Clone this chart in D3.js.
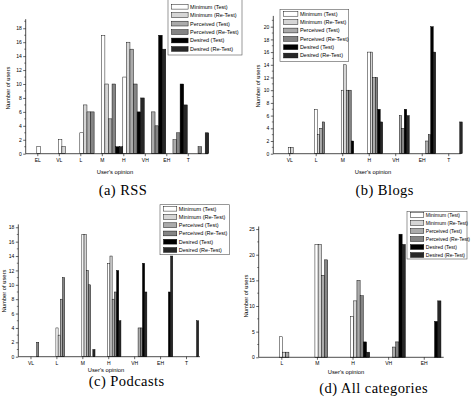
<!DOCTYPE html>
<html>
<head>
<meta charset="utf-8">
<script src="https://cdn.jsdelivr.net/npm/d3@7"></script>
<style>
  body { margin: 0; background: #fff; }
  text { font-family: "Liberation Sans", Arial, sans-serif; fill: #000; }
  .caption { font-family: "Liberation Serif", "DejaVu Serif", serif; letter-spacing: 0.45px; }
</style>
</head>
<body>
<svg id="chart" width="474" height="398"></svg>
<script>
// DATA
const seriesNames = ["Minimum (Test)", "Minimum (Re-Test)", "Perceived (Test)",
                     "Perceived (Re-Test)", "Desired (Test)", "Desired (Re-Test)"];

// (a) RSS
const rssCategories   = ["EL", "VL", "L", "M", "H", "VH", "EH", "T"];
const rssMinTest      = [1, 2, 3, 17, 11, 0, 0, 0];
const rssMinRetest    = [0, 1, 7, 10, 16, 0, 0, 0];
const rssPercTest     = [0, 0, 6, 5, 15, 6, 2, 0];
const rssPercRetest   = [0, 0, 6, 10, 10, 4, 3, 1];
const rssDesTest      = [0, 0, 0, 1, 6, 17, 10, 0];
const rssDesRetest    = [0, 0, 0, 1, 8, 15, 7, 3];
const rssYTicks       = [0, 2, 4, 6, 8, 10, 12, 14, 16, 18];

// (b) Blogs
const blogCategories  = ["VL", "L", "M", "H", "VH", "EH", "T"];
const blogMinTest     = [1, 7, 10, 16, 0, 0, 0];
const blogMinRetest   = [1, 3, 14, 16, 0, 0, 0];
const blogPercTest    = [0, 4, 10, 12, 6, 2, 0];
const blogPercRetest  = [0, 5, 10, 12, 4, 3, 0];
const blogDesTest     = [0, 0, 2, 7, 7, 20, 0];
const blogDesRetest   = [0, 0, 0, 5, 6, 16, 5];
const blogYTicks      = [0, 2, 4, 6, 8, 10, 12, 14, 16, 18, 20];

// (c) Podcasts
const podCategories   = ["VL", "L", "M", "H", "VH", "EH", "T"];
const podMinTest      = [0, 4, 17, 13, 0, 0, 0];
const podMinRetest    = [0, 3, 17, 14, 0, 0, 0];
const podPercTest     = [0, 8, 12, 8, 4, 0, 0];
const podPercRetest   = [2, 11, 10, 9, 4, 0, 0];
const podDesTest      = [0, 0, 0, 12, 13, 9, 0];
const podDesRetest    = [0, 0, 1, 5, 9, 14, 5];
const podYTicks       = [0, 2, 4, 6, 8, 10, 12, 14, 16, 18];

// (d) All categories
const allCategories   = ["L", "M", "H", "VH", "EH"];
const allMinTest      = [4, 22, 8, 0, 0];
const allMinRetest    = [1, 22, 11, 0, 0];
const allPercTest     = [1, 16, 15, 2, 0];
const allPercRetest   = [0, 19, 12, 3, 0];
const allDesTest      = [0, 0, 3, 24, 7];
const allDesRetest    = [0, 0, 1, 22, 11];
const allYTicks       = [0, 5, 10, 15, 20, 25];

// LAYOUT (pixel placement of each panel)
const panels = [
  { caption: "(a) RSS", categories: rssCategories,
    series: [rssMinTest, rssMinRetest, rssPercTest, rssPercRetest, rssDesTest, rssDesRetest],
    yTicks: rssYTicks, yMinor: 1, yMax: 19.3,
    x0: 25.7, x1: 208, xDom: [-0.54, 7.94], y0: 153.7, yTop: 19.2,
    barW: 3.58, barStart: -0.5,
    legend: { x: 168, y: -1, w: 74, h: 56, row0: 6.7, step: 8.45, sw: 16.6, fs: 5.5 },
    xTitle: [115, 173.5], yTitle: [8, 88], cap: [123, 195] },
  { caption: "(b) Blogs", categories: blogCategories,
    series: [blogMinTest, blogMinRetest, blogPercTest, blogPercRetest, blogDesTest, blogDesRetest],
    yTicks: blogYTicks, yMinor: 1, yMax: 21.7,
    x0: 273.3, x1: 460.7, xDom: [-0.6, 6.47], y0: 153.7, yTop: 15.9,
    barW: 2.5, barStart: -1,
    legend: { x: 280, y: 9.3, w: 68.7, h: 52, row0: 13.8, step: 8.35, sw: 14.4, fs: 5.5 },
    xTitle: [373, 173.5], yTitle: [257.7, 86], cap: [384.7, 195] },
  { caption: "(c) Podcasts", categories: podCategories,
    series: [podMinTest, podMinRetest, podPercTest, podPercRetest, podDesTest, podDesRetest],
    yTicks: podYTicks, yMinor: 1, yMax: 18.4,
    x0: 18.3, x1: 200, xDom: [-0.47, 6.54], y0: 356.7, yTop: 224.4,
    barW: 2.2, barStart: -0.5,
    legend: { x: 160, y: 204.7, w: 69.3, h: 50, row0: 208.7, step: 8.25, sw: 13.3, fs: 5.5 },
    xTitle: [106, 371.8], yTitle: [3.5, 291], cap: [126.7, 385.5] },
  { caption: "(d) All categories", categories: allCategories,
    series: [allMinTest, allMinRetest, allPercTest, allPercRetest, allDesTest, allDesRetest],
    yTicks: allYTicks, yMinor: 2.5, yMax: 25.5,
    x0: 258.7, x1: 443.7, xDom: [-0.635, 4.56], y0: 357.3, yTop: 226.5,
    barW: 3.2, barStart: -2,
    legend: { x: 407, y: 211.3, w: 60, h: 47.7, row0: 215, step: 8, sw: 13.3, fs: 5 },
    xTitle: [346, 374], yTitle: [246.3, 296], cap: [373.7, 392.5] }
];

const svg = d3.select("#chart");
const defs = svg.append("defs");

// hatch patterns
function hatch(id, bg, line, cross, gap, lw) {
  const p = defs.append("pattern")
    .attr("id", id).attr("patternUnits", "userSpaceOnUse")
    .attr("width", gap).attr("height", gap);
  p.append("rect").attr("width", gap).attr("height", gap).attr("fill", bg);
  p.append("path").attr("d", `M0,${gap} L${gap},0 M${-gap/2},${gap/2} L${gap/2},${-gap/2} M${gap/2},${gap*1.5} L${gap*1.5},${gap/2}`)
    .attr("stroke", line).attr("stroke-width", lw);
  if (cross) {
    p.append("path").attr("d", `M0,0 L${gap},${gap} M${-gap/2},${gap/2} L${gap/2},${gap*1.5} M${gap/2},${-gap/2} L${gap*1.5},${gap/2}`)
      .attr("stroke", line).attr("stroke-width", lw);
  }
}
hatch("minRe", "#fff", "#b0b0b0", true, 1.7, 0.45);
hatch("percRe", "#a4a4a4", "#666", true, 1.7, 0.45);
hatch("desRe", "#000", "#5c5c5c", true, 1.7, 0.35);

const fills = ["#ffffff", "url(#minRe)", "#ababab", "url(#percRe)", "#000000", "url(#desRe)"];

panels.forEach(p => {
  const g = svg.append("g");
  const x = d3.scaleLinear().domain(p.xDom).range([p.x0, p.x1]);
  const y = d3.scaleLinear().domain([0, p.yMax]).range([p.y0, p.yTop]);

  // bars
  p.series.forEach((vals, s) => {
    g.append("g").selectAll("rect")
      .data(vals.map((v, i) => ({ v, i })).filter(d => d.v > 0))
      .join("rect")
        .attr("x", d => x(d.i) + p.barStart + s * p.barW)
        .attr("y", d => y(d.v))
        .attr("width", p.barW)
        .attr("height", d => y(0) - y(d.v))
        .attr("fill", fills[s])
        .attr("stroke", "#000")
        .attr("stroke-width", 0.45);
  });

  // y axis
  const yAxis = d3.axisLeft(y)
    .tickValues(p.yTicks)
    .tickSize(2.5).tickPadding(1.5)
    .tickFormat(d3.format("d"));
  const ya = g.append("g").attr("transform", `translate(${p.x0},0)`).call(yAxis);
  ya.select(".domain").attr("d", `M0,${p.y0}V${p.yTop}`).attr("stroke-width", 0.7);
  ya.selectAll(".tick line").attr("stroke-width", 0.6);
  ya.selectAll(".tick text").style("font-size", "5px").attr("font-family", null);

  const minor = d3.range(p.yMinor, p.yMax, p.yMinor * 2);
  g.append("g").selectAll("line").data(minor).join("line")
    .attr("x1", p.x0).attr("x2", p.x0 - 1.5)
    .attr("y1", d => y(d)).attr("y2", d => y(d))
    .attr("stroke", "#000").attr("stroke-width", 0.5);

  // x axis
  const xa = g.append("g").attr("transform", `translate(0,${p.y0})`)
    .call(d3.axisBottom(x)
      .tickValues(d3.range(p.categories.length))
      .tickSize(2.5).tickPadding(2)
      .tickFormat(i => p.categories[i]));
  xa.select(".domain").attr("d", `M${p.x0},0H${p.x1}`).attr("stroke-width", 0.7);
  xa.selectAll(".tick line").attr("stroke-width", 0.6);
  xa.selectAll(".tick text").style("font-size", "5px").attr("font-family", null);

  // axis titles
  g.append("text").attr("x", p.xTitle[0]).attr("y", p.xTitle[1])
    .attr("text-anchor", "middle").style("font-size", "5.8px").text("User's opinion");
  g.append("text")
    .attr("transform", `translate(${p.yTitle[0]},${p.yTitle[1]}) rotate(-90)`)
    .attr("text-anchor", "middle").attr("dy", "0.35em")
    .style("font-size", "5.8px").text("Number of users");

  // caption
  g.append("text").attr("class", "caption")
    .attr("x", p.cap[0]).attr("y", p.cap[1])
    .attr("text-anchor", "middle").style("font-size", "14.5px").text(p.caption);

  // legend
  const L = p.legend;
  const lg = g.append("g");
  lg.append("rect").attr("x", L.x).attr("y", L.y).attr("width", L.w).attr("height", L.h)
    .attr("fill", "#fff").attr("stroke", "#555").attr("stroke-width", 0.6);
  seriesNames.forEach((name, s) => {
    const cy = L.row0 + s * L.step;
    lg.append("rect").attr("x", L.x + 3.5).attr("y", cy - 2.4)
      .attr("width", L.sw).attr("height", 4.8)
      .attr("fill", fills[s]).attr("stroke", "#000").attr("stroke-width", 0.45);
    lg.append("text").attr("x", L.x + L.sw + 5.5).attr("y", cy)
      .attr("dy", "0.35em").style("font-size", L.fs + "px").text(name);
  });
});
</script>
</body>
</html>
